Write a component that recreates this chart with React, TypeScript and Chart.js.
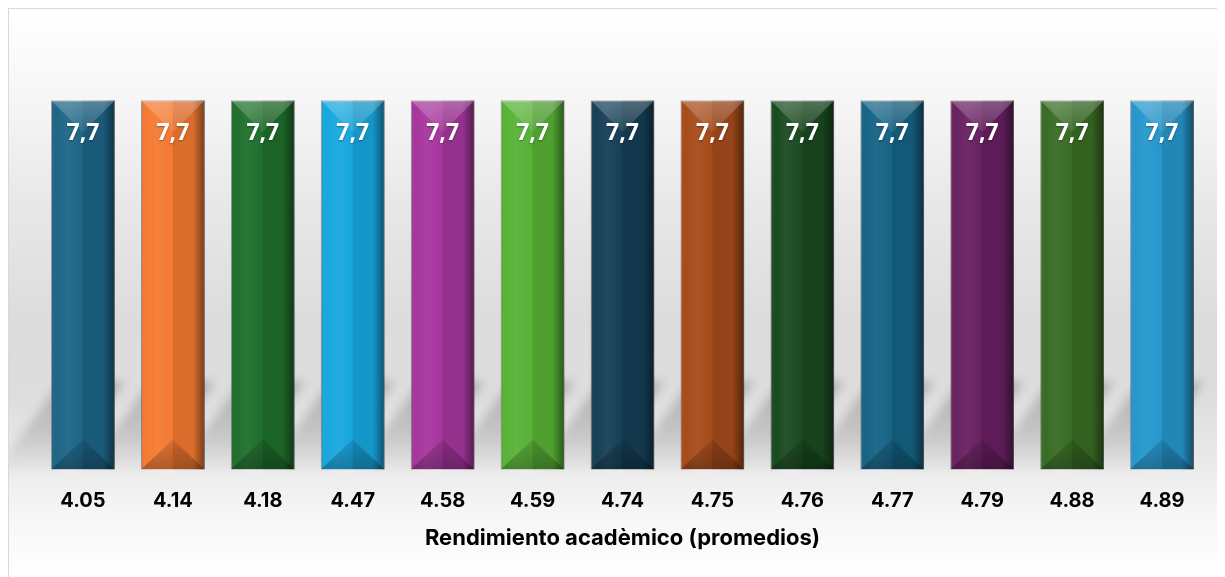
import React, { useEffect, useRef } from "react";
import { Chart, registerables } from "chart.js";

Chart.register(...registerables);

const categories = ["4.05", "4.14", "4.18", "4.47", "4.58", "4.59", "4.74", "4.75", "4.76", "4.77", "4.79", "4.88", "4.89"];
const values = [7.7, 7.7, 7.7, 7.7, 7.7, 7.7, 7.7, 7.7, 7.7, 7.7, 7.7, 7.7, 7.7];
const barColors = [
  "#1d6587", "#f47a32", "#1f6f2c", "#18a7df", "#a6369d", "#58b237", "#163f56",
  "#a64b1b", "#1a4a20", "#156385", "#682061", "#386c24", "#2597cc",
];
const axisTitle = "Rendimiento acadèmico (promedios)";

const shadowPlugin = {
  id: "barShadow",
  beforeDatasetsDraw(chart: any) {
    const ctx = chart.ctx;
    const meta = chart.getDatasetMeta(0);
    ctx.save();
    ctx.filter = "blur(5px)";
    meta.data.forEach((bar: any) => {
      const L = bar.x - bar.width / 2;
      const R = bar.x + bar.width / 2;
      const B = bar.base;
      const topY = B - 88;
      const g = ctx.createLinearGradient(0, topY, 0, B);
      g.addColorStop(0, "rgba(0,0,0,0.20)");
      g.addColorStop(0.6, "rgba(0,0,0,0.13)");
      g.addColorStop(1, "rgba(0,0,0,0.02)");
      ctx.fillStyle = g;
      ctx.beginPath();
      ctx.moveTo(L - 55, B);
      ctx.lineTo(R - 55, B);
      ctx.lineTo(R + 10, topY);
      ctx.lineTo(L + 10, topY);
      ctx.closePath();
      ctx.fill();
    });
    ctx.restore();
  },
};

const bevelPlugin = {
  id: "bevel",
  afterDatasetsDraw(chart: any) {
    const ctx = chart.ctx;
    const meta = chart.getDatasetMeta(0);
    const ds = chart.data.datasets[0];
    meta.data.forEach((bar: any, i: number) => {
      const L = bar.x - bar.width / 2;
      const R = bar.x + bar.width / 2;
      const T = bar.y;
      const B = bar.base;
      const W = R - L;
      const cx = bar.x;
      ctx.save();
      ctx.beginPath();
      ctx.rect(L, T, W, B - T);
      ctx.clip();
      ctx.fillStyle = "rgba(0,0,0,0.10)";
      ctx.fillRect(cx, T, R - cx, B - T);
      const lg = ctx.createLinearGradient(L, 0, cx, 0);
      lg.addColorStop(0, "rgba(0,0,0,0.12)");
      lg.addColorStop(0.15, "rgba(255,255,255,0.0)");
      lg.addColorStop(0.5, "rgba(255,255,255,0.05)");
      lg.addColorStop(1, "rgba(255,255,255,0.0)");
      ctx.fillStyle = lg;
      ctx.fillRect(L, T, cx - L, B - T);
      const rg = ctx.createLinearGradient(R - 12, 0, R, 0);
      rg.addColorStop(0, "rgba(0,0,0,0)");
      rg.addColorStop(1, "rgba(0,0,0,0.45)");
      ctx.fillStyle = rg;
      ctx.fillRect(R - 12, T, 12, B - T);
      const tg = ctx.createLinearGradient(0, T, 0, T + 32);
      tg.addColorStop(0, "rgba(255,255,255,0.26)");
      tg.addColorStop(1, "rgba(255,255,255,0.08)");
      ctx.fillStyle = tg;
      ctx.beginPath();
      ctx.moveTo(L, T);
      ctx.lineTo(R, T);
      ctx.lineTo(cx, T + 32);
      ctx.closePath();
      ctx.fill();
      const bg = ctx.createLinearGradient(0, B - 30, 0, B);
      bg.addColorStop(0, "rgba(0,0,0,0.10)");
      bg.addColorStop(1, "rgba(0,0,0,0.28)");
      ctx.fillStyle = bg;
      ctx.beginPath();
      ctx.moveTo(L, B);
      ctx.lineTo(R, B);
      ctx.lineTo(cx, B - 30);
      ctx.closePath();
      ctx.fill();
      ctx.restore();

      const v = ds.data[i] as number;
      const txt = v.toFixed(1).replace(".", ",");
      ctx.save();
      ctx.font = "bold 23px 'Open Sans', 'DejaVu Sans', sans-serif";
      ctx.fillStyle = "#ffffff";
      ctx.textAlign = "center";
      ctx.textBaseline = "middle";
      ctx.shadowColor = "rgba(0,0,0,0.35)";
      ctx.shadowBlur = 2;
      ctx.shadowOffsetY = 1;
      ctx.fillText(txt, cx, T + 33);
      ctx.restore();
    });
  },
};

export default function App() {
  const ref = useRef<HTMLCanvasElement | null>(null);
  useEffect(() => {
    if (!ref.current) return;
    const chart = new Chart(ref.current, {
      type: "bar",
      data: {
        labels: categories,
        datasets: [
          {
            data: values,
            backgroundColor: barColors,
            borderColor: "rgba(110,110,110,0.55)",
            borderWidth: 1,
            barPercentage: 0.71,
            categoryPercentage: 1,
          },
        ],
      },
      options: {
        animation: false,
        responsive: true,
        maintainAspectRatio: false,
        layout: { padding: { top: 29, left: 29, right: 18, bottom: 25 } },
        plugins: { legend: { display: false }, tooltip: { enabled: false } },
        scales: {
          y: { display: false, min: 0, max: 9 },
          x: {
            grid: { display: false, tickLength: 19 },
            border: { display: false },
            ticks: {
              padding: 0,
              color: "#000",
              font: { family: "Inter, 'Liberation Sans', sans-serif", size: 20, weight: "bold" },
            },
            title: {
              display: true,
              text: axisTitle,
              color: "#000",
              padding: { top: 13, bottom: 0 },
              font: { family: "Inter, 'Liberation Sans', sans-serif", size: 22, weight: "bold" },
            },
          },
        },
      },
      plugins: [shadowPlugin, bevelPlugin],
    });
    return () => chart.destroy();
  }, []);
  return (
    <div
      style={{
        width: 1216,
        height: 568,
        borderTop: "1px solid #d9d9d9",
        borderLeft: "1px solid #d9d9d9",
        background:
          "linear-gradient(to bottom, #ffffff 0%, #f6f6f6 16%, #e8e8e8 34%, #dcdcdc 55%, #dddddd 68%, #ebebeb 81%, #f5f5f5 88%, #ffffff 100%)",
        overflow: "hidden",
      }}
    >
      <canvas ref={ref} />
    </div>
  );
}
